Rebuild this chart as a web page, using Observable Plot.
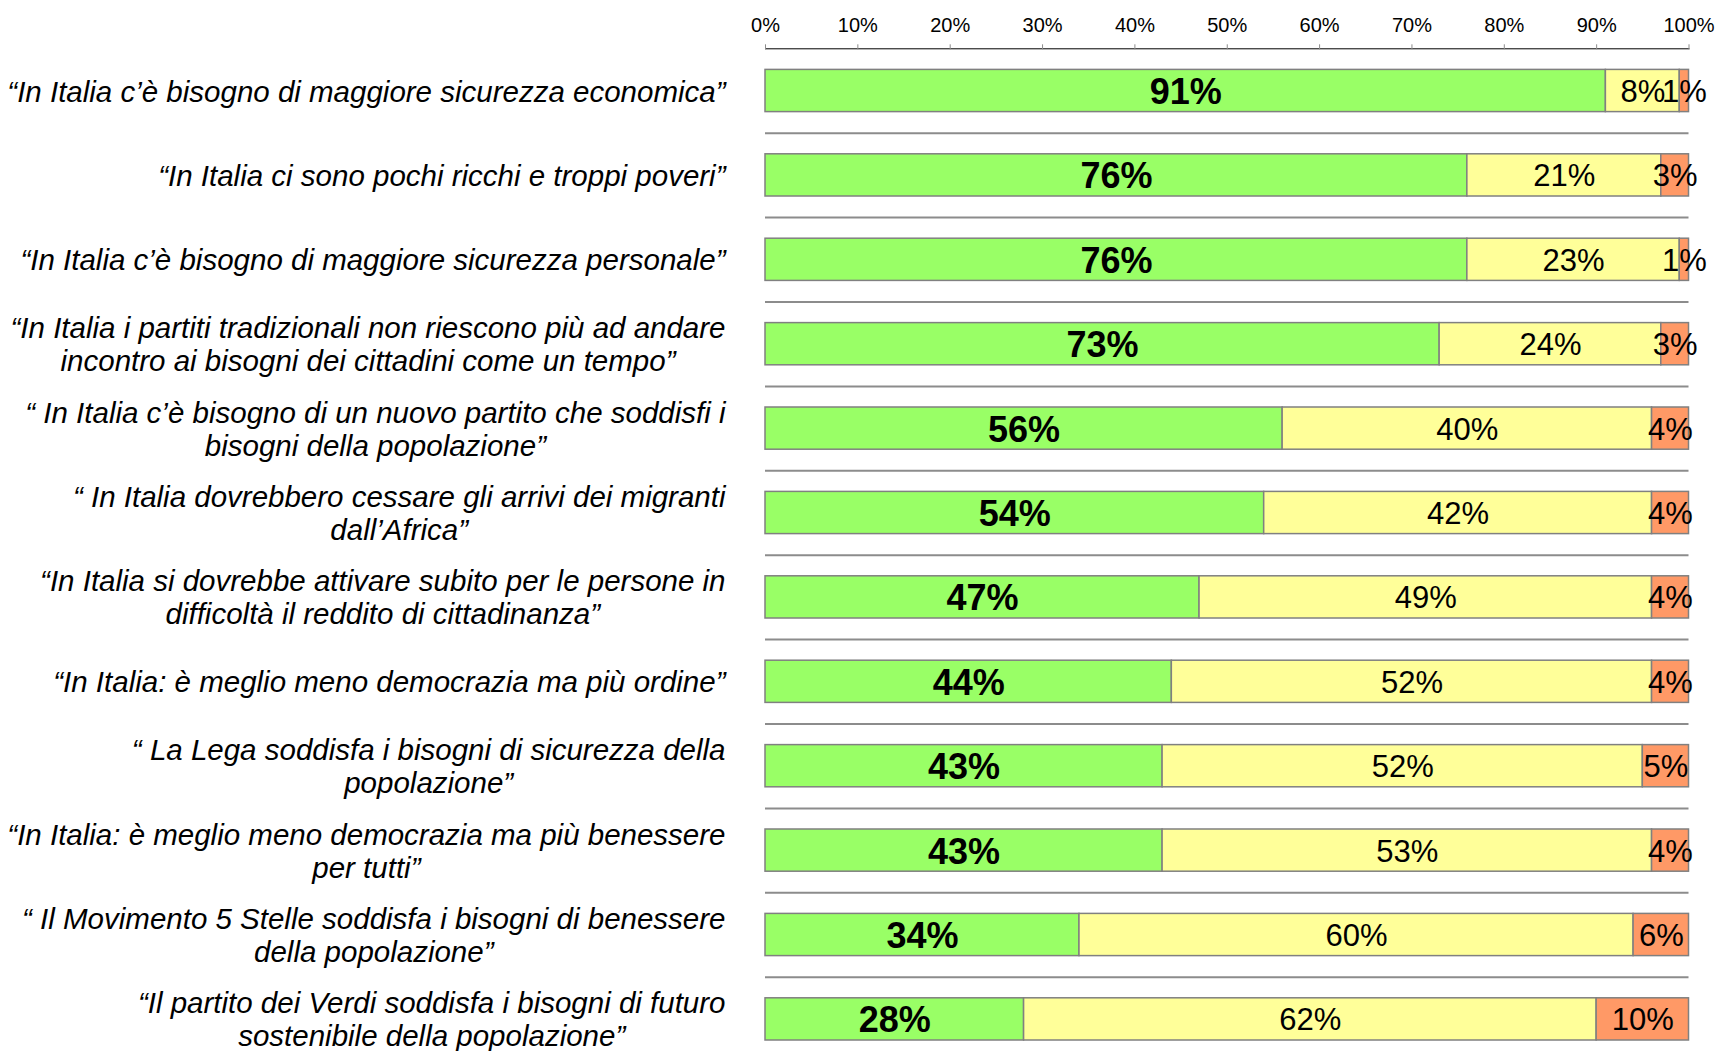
<!DOCTYPE html>
<html><head><meta charset="utf-8">
<script src="https://cdn.jsdelivr.net/npm/d3@7"></script>
<script src="https://cdn.jsdelivr.net/npm/@observablehq/plot@0.6"></script>
<style>
body{margin:0;background:#fff;}
#chart svg [aria-label^="x-axis"] line,#chart svg [aria-label^="x-axis"] path{stroke:#8c8c8c;}
</style></head><body><div id="chart"></div>
<script>
const statements = [
  "“In Italia c’è bisogno di maggiore sicurezza economica”",
  "“In Italia ci sono pochi ricchi e troppi poveri”",
  "“In Italia c’è bisogno di maggiore sicurezza personale”",
  "“In Italia i partiti tradizionali non riescono più ad andare\nincontro ai bisogni dei cittadini come un tempo”",
  "“ In Italia c’è bisogno di un nuovo partito che soddisfi i\nbisogni della popolazione”",
  "“ In Italia dovrebbero cessare gli arrivi dei migranti\ndall’Africa”",
  "“In Italia si dovrebbe attivare subito per le persone in\ndifficoltà il reddito di cittadinanza”",
  "“In Italia: è meglio meno democrazia ma più ordine”",
  "“ La Lega soddisfa i bisogni di sicurezza della\npopolazione”",
  "“In Italia: è meglio meno democrazia ma più benessere\nper tutti”",
  "“ Il Movimento 5 Stelle soddisfa i bisogni di benessere\ndella popolazione”",
  "“Il partito dei Verdi soddisfa i bisogni di futuro\nsostenibile della popolazione”"
];
const seriesNames = ["Sì", "No", "Non so"];
const valuesSi   = [91, 76, 76, 73, 56, 54, 47, 44, 43, 43, 34, 28];
const valuesNo   = [8, 21, 23, 24, 40, 42, 49, 52, 52, 53, 60, 62];
const valuesNonSo = [1, 3, 1, 3, 4, 4, 4, 4, 5, 4, 6, 10];
const tickValues = [0, 10, 20, 30, 40, 50, 60, 70, 80, 90, 100];
const seriesColors = ["#99ff66", "#ffff99", "#ff9966"];

const series = [valuesSi, valuesNo, valuesNonSo];
const table = [];
statements.forEach((s, i) => {
  let acc = 0;
  series.forEach((vals, j) => {
    const v = vals[i];
    table.push({cat: s, series: seriesNames[j], value: v, x1: acc, x2: acc + v});
    acc += v;
  });
});

const W = 1735, H = 1051, mL = 765, mT = 48.3, step = 84.4;
const LF = 29.5;
const FONT = "'Liberation Sans', Arial, sans-serif";
const ctx = document.createElement("canvas").getContext("2d");
ctx.font = `italic ${LF}px 'Liberation Sans'`;
const labelRight = 725;
const labelMarks = statements.map(s => {
  const w = d3.max(s.split("\n"), l => ctx.measureText(l).width);
  return Plot.text([s], {
    y: d => d, text: d => d, frameAnchor: "left", textAnchor: "middle",
    dx: (labelRight - mL) - w / 2, fontSize: LF, fontStyle: "italic", lineHeight: 1.12, fill: "#000"
  });
});

const chart = Plot.plot({
  width: W, height: H,
  marginLeft: mL, marginRight: 46.5, marginTop: mT, marginBottom: 0,
  style: {fontFamily: FONT, fontSize: "20px", color: "#000", background: "#fff", overflow: "visible"},
  x: {domain: [0, 100], axis: "top", ticks: tickValues, tickFormat: d => d + "%", tickSize: 5, tickPadding: 12, label: null, line: true},
  y: {domain: statements, range: [mT, mT + statements.length * step], paddingInner: 0.5, paddingOuter: 0.25, round: false, axis: null},
  color: {domain: seriesNames, range: seriesColors},
  marks: [
    Plot.ruleY(statements, {y: d => d, dy: step / 2, stroke: "#8c8c8c", strokeWidth: 2}),
    Plot.barX(table, {x1: "x1", x2: "x2", y: "cat", fill: "series", stroke: "#808080", strokeWidth: 1.5}),
    Plot.text(table.filter(d => d.series === seriesNames[0]), {
      x: d => (d.x1 + d.x2) / 2, y: "cat", text: d => d.value + "%", fontSize: 36, fontWeight: "bold", fill: "#000", dy: 1.5
    }),
    Plot.text(table.filter(d => d.series !== seriesNames[0]), {
      x: d => (d.x1 + d.x2) / 2, y: "cat", text: d => d.value + "%", fontSize: 31, fill: "#000", dy: 1
    }),
    ...labelMarks
  ]
});
document.getElementById("chart").append(chart);
</script></body></html>
